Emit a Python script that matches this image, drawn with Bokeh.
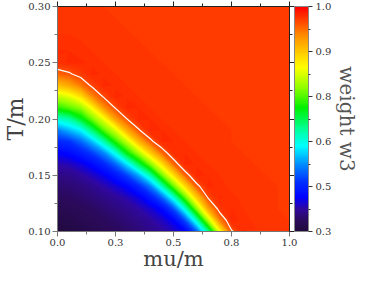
import numpy as np
from bokeh.plotting import figure
from bokeh.models import (LinearColorMapper, ColorBar, FixedTicker, LinearAxis,
                          Title, Range1d)
from bokeh.embed import file_html
from bokeh.resources import INLINE

# ---- data -----------------------------------------------------------------
mu_values = [0.00, 0.05, 0.10, 0.15, 0.20, 0.25, 0.30, 0.35, 0.40, 0.45, 0.50,
             0.55, 0.60, 0.65, 0.70, 0.75, 0.80, 0.85, 0.90, 0.95, 1.00]
T_values = [0.10, 0.11, 0.12, 0.13, 0.14, 0.15, 0.16, 0.17, 0.18, 0.19, 0.20,
            0.21, 0.22, 0.23, 0.24, 0.25, 0.26, 0.27, 0.28, 0.29, 0.30]

w3_T010 = [0.300, 0.307, 0.313, 0.320, 0.327, 0.333, 0.340, 0.348, 0.357, 0.368, 0.380, 0.405, 0.480, 0.620, 0.810, 0.946, 0.973, 0.969, 0.966, 0.965, 0.964]
w3_T011 = [0.311, 0.316, 0.322, 0.328, 0.334, 0.341, 0.349, 0.357, 0.368, 0.382, 0.407, 0.472, 0.597, 0.772, 0.920, 0.975, 0.970, 0.967, 0.966, 0.965, 0.964]
w3_T012 = [0.322, 0.325, 0.329, 0.336, 0.344, 0.352, 0.359, 0.371, 0.387, 0.413, 0.471, 0.583, 0.744, 0.892, 0.965, 0.972, 0.968, 0.966, 0.965, 0.964, 0.963]
w3_T013 = [0.332, 0.335, 0.341, 0.348, 0.356, 0.365, 0.377, 0.396, 0.429, 0.482, 0.581, 0.722, 0.855, 0.954, 0.973, 0.969, 0.967, 0.966, 0.965, 0.964, 0.963]
w3_T014 = [0.343, 0.346, 0.351, 0.360, 0.373, 0.388, 0.409, 0.443, 0.497, 0.597, 0.726, 0.839, 0.941, 0.974, 0.970, 0.967, 0.966, 0.965, 0.965, 0.964, 0.963]
w3_T015 = [0.355, 0.358, 0.368, 0.382, 0.400, 0.428, 0.466, 0.524, 0.609, 0.733, 0.837, 0.936, 0.975, 0.971, 0.968, 0.966, 0.965, 0.965, 0.964, 0.964, 0.963]
w3_T016 = [0.375, 0.379, 0.394, 0.415, 0.444, 0.487, 0.557, 0.649, 0.743, 0.838, 0.934, 0.975, 0.971, 0.968, 0.966, 0.965, 0.965, 0.964, 0.964, 0.963, 0.963]
w3_T017 = [0.404, 0.415, 0.435, 0.463, 0.507, 0.581, 0.685, 0.765, 0.856, 0.933, 0.972, 0.972, 0.968, 0.966, 0.965, 0.965, 0.964, 0.964, 0.963, 0.963, 0.963]
w3_T018 = [0.446, 0.454, 0.486, 0.536, 0.608, 0.702, 0.779, 0.876, 0.942, 0.974, 0.972, 0.968, 0.967, 0.966, 0.965, 0.964, 0.964, 0.964, 0.963, 0.963, 0.963]
w3_T019 = [0.500, 0.531, 0.562, 0.636, 0.722, 0.790, 0.885, 0.947, 0.975, 0.972, 0.968, 0.967, 0.966, 0.965, 0.965, 0.964, 0.964, 0.963, 0.963, 0.963, 0.962]
w3_T020 = [0.591, 0.611, 0.668, 0.736, 0.804, 0.896, 0.950, 0.975, 0.972, 0.968, 0.967, 0.966, 0.965, 0.965, 0.964, 0.964, 0.963, 0.963, 0.963, 0.962, 0.962]
w3_T021 = [0.700, 0.725, 0.750, 0.818, 0.906, 0.953, 0.975, 0.972, 0.968, 0.967, 0.966, 0.965, 0.965, 0.964, 0.964, 0.963, 0.963, 0.963, 0.962, 0.962, 0.962]
w3_T022 = [0.776, 0.796, 0.838, 0.913, 0.955, 0.974, 0.971, 0.968, 0.967, 0.966, 0.965, 0.965, 0.964, 0.964, 0.963, 0.963, 0.963, 0.962, 0.962, 0.962, 0.962]
w3_T023 = [0.868, 0.890, 0.923, 0.958, 0.974, 0.971, 0.968, 0.967, 0.966, 0.965, 0.965, 0.964, 0.964, 0.963, 0.963, 0.963, 0.962, 0.962, 0.962, 0.962, 0.962]
w3_T024 = [0.936, 0.946, 0.962, 0.974, 0.971, 0.968, 0.967, 0.966, 0.965, 0.965, 0.964, 0.964, 0.963, 0.963, 0.963, 0.962, 0.962, 0.962, 0.962, 0.962, 0.962]
w3_T025 = [0.970, 0.973, 0.973, 0.971, 0.968, 0.967, 0.966, 0.965, 0.965, 0.964, 0.964, 0.963, 0.963, 0.963, 0.962, 0.962, 0.962, 0.962, 0.962, 0.962, 0.962]
w3_T026 = [0.973, 0.972, 0.970, 0.968, 0.967, 0.966, 0.965, 0.965, 0.964, 0.964, 0.963, 0.963, 0.963, 0.962, 0.962, 0.962, 0.962, 0.962, 0.962, 0.962, 0.962]
w3_T027 = [0.969, 0.969, 0.968, 0.967, 0.966, 0.965, 0.965, 0.964, 0.964, 0.963, 0.963, 0.963, 0.962, 0.962, 0.962, 0.962, 0.962, 0.962, 0.962, 0.962, 0.962]
w3_T028 = [0.967, 0.967, 0.966, 0.966, 0.965, 0.965, 0.964, 0.964, 0.963, 0.963, 0.963, 0.962, 0.962, 0.962, 0.962, 0.962, 0.962, 0.962, 0.962, 0.962, 0.962]
w3_T029 = [0.966, 0.966, 0.965, 0.965, 0.965, 0.964, 0.964, 0.963, 0.963, 0.963, 0.962, 0.962, 0.962, 0.962, 0.962, 0.962, 0.962, 0.962, 0.962, 0.962, 0.962]
w3_T030 = [0.965, 0.965, 0.965, 0.964, 0.964, 0.964, 0.963, 0.963, 0.963, 0.962, 0.962, 0.962, 0.962, 0.962, 0.962, 0.962, 0.962, 0.962, 0.962, 0.962, 0.962]

boundary_level = 0.95   # white contour line

x_ticks = [0.0, 0.25, 0.5, 0.75, 1.0]
x_tick_labels = ["0.0", "0.3", "0.5", "0.8", "1.0"]
y_ticks = [0.10, 0.15, 0.20, 0.25, 0.30]
y_tick_labels = ["0.10", "0.15", "0.20", "0.25", "0.30"]
cb_ticks = [0.30, 0.44, 0.58, 0.72, 0.86, 1.00]
cb_tick_labels = ["0.3", "0.5", "0.6", "0.8", "0.9", "1.0"]

# ---- colour map ---------------------------------------------------------------
stops = [(0.00, "#210a3c"), (0.05, "#2b0a5e"), (0.10, "#3008a0"), (0.15, "#0000ff"),
         (0.22, "#0030ff"), (0.30, "#0090ff"), (0.38, "#00ffff"), (0.46, "#00ff90"),
         (0.55, "#00f000"), (0.64, "#90ff00"), (0.73, "#ffff00"), (0.86, "#ff9900"),
         (1.00, "#ff0000")]

def _rgb(h):
    return [int(h[i:i + 2], 16) for i in (1, 3, 5)]

def cmap(f):
    f = min(max(f, 0.0), 1.0)
    for (f0, c0), (f1, c1) in zip(stops[:-1], stops[1:]):
        if f <= f1:
            t = (f - f0) / (f1 - f0) if f1 > f0 else 0
            a, b = _rgb(c0), _rgb(c1)
            return "#%02x%02x%02x" % tuple(int(round(a[k] + (b[k] - a[k]) * t)) for k in range(3))
    return stops[-1][1]

LOW, HIGH = 0.3, 1.0
palette = [cmap(i / 255) for i in range(256)]
mapper = LinearColorMapper(palette=palette, low=LOW, high=HIGH)

w3 = np.array([w3_T010, w3_T011, w3_T012, w3_T013, w3_T014, w3_T015, w3_T016,
               w3_T017, w3_T018, w3_T019, w3_T020, w3_T021, w3_T022, w3_T023,
               w3_T024, w3_T025, w3_T026, w3_T027, w3_T028, w3_T029, w3_T030])

levels = list(np.arange(0.296, 0.978, 0.004))

# ---- figure -------------------------------------------------------------------
SERIF = "DejaVu Serif"
p = figure(width=360, height=273, x_range=Range1d(0, 1), y_range=Range1d(0.1, 0.3),
           output_backend="svg", toolbar_location=None,
           min_border_left=0, min_border_right=0, min_border_top=6, min_border_bottom=0)
p.grid.visible = False
p.outline_line_color = None
p.background_fill_color = cmap((0.962 - LOW) / (HIGH - LOW))

# stacked super-level fills (no seams between neighbouring bands)
for i, lev in enumerate(levels):
    upper = levels[i + 1] if i + 1 < len(levels) else lev + 0.004
    c = cmap(((lev + upper) / 2 - LOW) / (HIGH - LOW))
    p.contour(mu_values, T_values, w3, levels=[lev, 1.0], fill_color=[c], line_color=None)

p.contour(mu_values, T_values, w3, levels=[boundary_level], line_color="white", line_width=1.2)

def style_axis(ax, line_color, show_labels):
    ax.axis_line_color = line_color
    ax.major_tick_line_color = line_color
    ax.minor_tick_line_color = line_color
    ax.major_tick_in = 0
    ax.major_tick_out = 5
    ax.minor_tick_in = 0
    ax.minor_tick_out = 3
    ax.major_label_text_font = SERIF
    if show_labels:
        ax.major_label_text_color = "#333333"
        ax.major_label_text_font_size = "10px"
        ax.major_label_standoff = 2
    else:
        ax.major_label_text_color = None
        ax.major_label_text_font_size = "1px"
        ax.major_label_standoff = 0

xticker = FixedTicker(ticks=x_ticks, minor_ticks=[0.125, 0.375, 0.625, 0.875])
yticker = FixedTicker(ticks=y_ticks, minor_ticks=[0.125, 0.175, 0.225, 0.275])

xa = p.xaxis[0]
xa.ticker = xticker
xa.major_label_overrides = dict(zip(x_ticks, x_tick_labels))
style_axis(xa, "#777777", True)
xa.axis_label = "mu/m"
xa.axis_label_text_font = SERIF
xa.axis_label_text_font_size = "21px"
xa.axis_label_text_font_style = "normal"
xa.axis_label_text_color = "#444444"
xa.axis_label_standoff = -2

ya = p.yaxis[0]
ya.ticker = yticker
ya.major_label_overrides = dict(zip(y_ticks, y_tick_labels))
style_axis(ya, "#777777", True)
ya.axis_label = "T/m"
ya.axis_label_text_font = SERIF
ya.axis_label_text_font_size = "22px"
ya.axis_label_text_font_style = "normal"
ya.axis_label_text_color = "#444444"
ya.axis_label_standoff = -3

top = LinearAxis(ticker=xticker)
style_axis(top, "#222222", False)
p.add_layout(top, "above")

right = LinearAxis(ticker=yticker)
style_axis(right, "#222222", False)
p.add_layout(right, "right")

cb = ColorBar(color_mapper=mapper,
              ticker=FixedTicker(ticks=cb_ticks, minor_ticks=[0.37, 0.51, 0.65, 0.79, 0.93]),
              major_label_overrides=dict(zip(cb_ticks, cb_tick_labels)),
              width=14, padding=0, margin=10, location=(0, 0),
              major_tick_in=0, major_tick_out=4, minor_tick_in=0, minor_tick_out=2,
              major_tick_line_color="#333333", minor_tick_line_color="#333333",
              bar_line_color="#888888", label_standoff=3,
              major_label_text_font=SERIF, major_label_text_font_size="10px",
              major_label_text_color="#333333")
p.add_layout(cb, "right")

p.add_layout(Title(text="weight w3", align="center", text_font=SERIF,
                   text_font_size="20px", text_font_style="normal",
                   text_color="#555555", standoff=0), "right")

open("out.html", "w").write(file_html(p, INLINE))
